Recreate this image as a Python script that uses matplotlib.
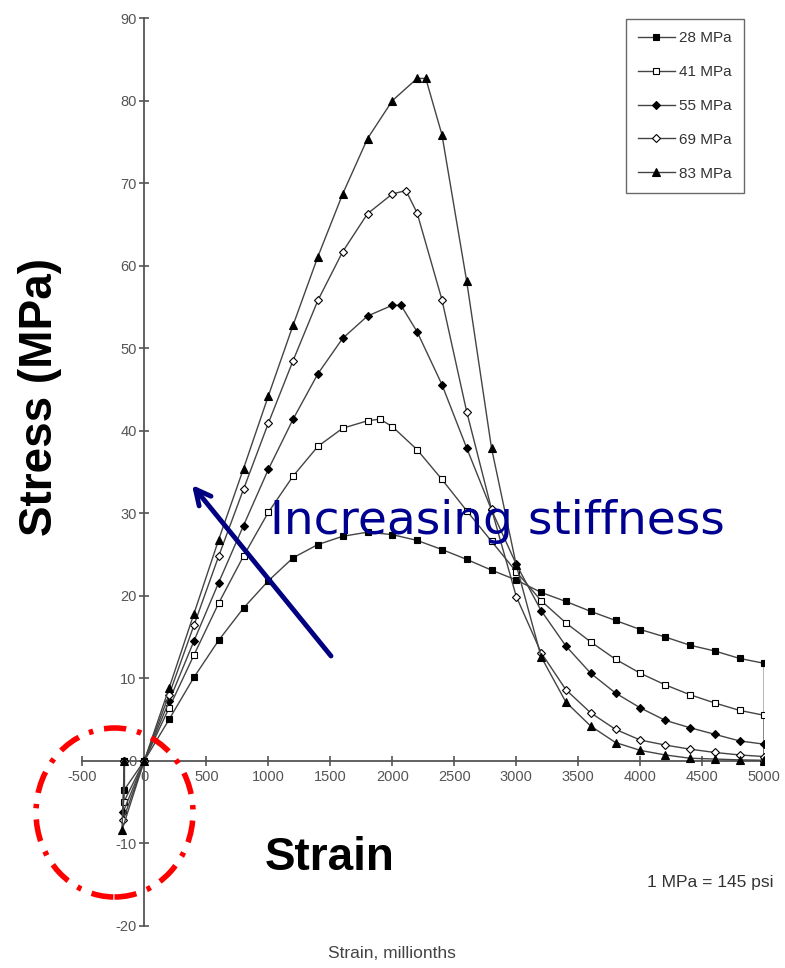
import matplotlib
matplotlib.use('Agg')
import matplotlib.pyplot as plt
from matplotlib.patches import Ellipse

plt.rcParams['axes.unicode_minus'] = False

# strain grid (millionths) shared by all curves
strain = [0, 200, 400, 600, 800, 1000, 1200, 1400, 1600, 1800, 2000, 2200, 2400,
          2600, 2800, 3000, 3200, 3400, 3600, 3800, 4000, 4200, 4400, 4600, 4800, 5000]

labels = ['28 MPa', '41 MPa', '55 MPa', '69 MPa', '83 MPa']

stress_28 = [0, 5.0, 10.1, 14.6, 18.5, 21.8, 24.6, 26.2, 27.2, 27.7, 27.4, 26.7, 25.6,
             24.4, 23.1, 21.9, 20.4, 19.3, 18.1, 17.0, 15.9, 15.0, 14.0, 13.3, 12.4, 11.8]
stress_41 = [0, 6.4, 12.8, 19.1, 24.8, 30.1, 34.5, 38.1, 40.3, 41.2, 40.5, 37.7, 34.1,
             30.3, 26.6, 22.9, 19.4, 16.7, 14.4, 12.3, 10.6, 9.2, 8.0, 7.0, 6.1, 5.5]
stress_55 = [0, 7.2, 14.5, 21.6, 28.5, 35.3, 41.4, 46.9, 51.2, 53.9, 55.2, 52.0, 45.6,
             37.9, 30.4, 23.8, 18.2, 13.9, 10.6, 8.2, 6.4, 4.9, 4.0, 3.2, 2.4, 2.0]
stress_69 = [0, 8.0, 16.4, 24.8, 32.9, 40.9, 48.5, 55.8, 61.7, 66.3, 68.7, 66.4, 55.9,
             42.3, 30.5, 19.9, 13.1, 8.6, 5.8, 3.8, 2.5, 1.9, 1.4, 1.0, 0.7, 0.5]
stress_83 = [0, 8.8, 17.8, 26.8, 35.4, 44.2, 52.8, 61.1, 68.7, 75.4, 80.0, 82.7, 75.9,
             58.1, 37.9, 23.7, 12.6, 7.1, 4.2, 2.2, 1.25, 0.7, 0.3, 0.2, 0.1, 0.05]

# extra point at each peak (None = no extra point)
peak_strain = [None, 1900, 2070, 2110, 2270]
peak_stress = [None, 41.4, 55.2, 69.1, 82.7]

# small negative pre-load excursion before zero
pre_start = -160
pre_strain = [-160, -165, -170, -172, -180]
pre_stress = [-3.5, -5.0, -6.2, -7.2, -8.4]

end_strain = 5000

markers = ['s', 's', 'D', 'D', '^']
faces = ['black', 'white', 'black', 'white', 'black']
msizes = [5, 5, 4, 4, 6]

W, H = 785, 968


def fx(px):
    return px / W


def fy(py):
    return 1 - py / H


fig = plt.figure(figsize=(W / 100, H / 100), dpi=100)
ax = fig.add_axes([fx(82.3), fy(925.7), fx(764.3) - fx(82.3), fy(18.2) - fy(925.7)])

all_stress = [stress_28, stress_41, stress_55, stress_69, stress_83]
for i, ys in enumerate(all_stress):
    pts = list(zip(strain, ys))
    if peak_strain[i] is not None:
        pts.append((peak_strain[i], peak_stress[i]))
    pts.sort()
    xs = [pre_start, pre_strain[i]] + [p[0] for p in pts] + [end_strain]
    yy = [0, pre_stress[i]] + [p[1] for p in pts] + [0]
    ax.plot(xs, yy, color='#444444', lw=1.0, marker=markers[i], ms=msizes[i],
            mfc=faces[i], mec='black', mew=0.8, label=labels[i], zorder=3)

ax.set_xlim(-500, 5000)
ax.set_ylim(-20, 90)
ax.set_xticks(range(-500, 5001, 500))
ax.set_yticks(range(-20, 91, 10))
for s in ['top', 'right']:
    ax.spines[s].set_visible(False)
ax.spines['left'].set_position(('data', 0))
ax.spines['bottom'].set_position(('data', 0))
for s in ['left', 'bottom']:
    ax.spines[s].set_color('#555555')
    ax.spines[s].set_linewidth(1.3)
ax.tick_params(direction='inout', length=7, width=1.2, color='#555555',
               labelcolor='#555555', labelsize=10.5)
ax.tick_params(axis='y', pad=2)
for lab in ax.get_xticklabels() + ax.get_yticklabels():
    lab.set_family('Liberation Sans')
ax.patch.set_visible(False)

leg = ax.legend(loc='upper right', bbox_to_anchor=(fx(744), fy(19)),
                bbox_transform=fig.transFigure, borderaxespad=0, frameon=True,
                fancybox=False, edgecolor='#444444', labelspacing=1.3,
                handlelength=2.4, handletextpad=0.3, borderpad=0.8,
                prop={'family': 'Liberation Sans', 'size': 11})
leg.get_frame().set_linewidth(1.0)
for t in leg.get_texts():
    t.set_color('#333333')

# annotations on top of the chart
fig.text(fx(40), fy(397), 'Stress (MPa)', rotation=90, ha='center', va='center',
         fontsize=33, fontweight='bold', family='Liberation Sans')
fig.text(fx(330), fy(858), 'Strain', ha='center', va='center',
         fontsize=33, fontweight='bold', family='Liberation Sans')
fig.text(fx(710), fy(883), '1 MPa = 145 psi', ha='center', va='center',
         fontsize=12.5, color='#333333', family='Liberation Sans')
fig.text(fx(392), fy(954), 'Strain, millionths', ha='center', va='center',
         fontsize=12.5, color='#444444', family='Liberation Sans')

inc = fig.text(fx(270), fy(522), 'Increasing stiffness', ha='left', va='center',
               fontsize=30, color='#000090', family='DejaVu Sans')
fig.canvas.draw()
ext = inc.get_window_extent()
inc.set_fontsize(30 * 455 / ext.width)

ax.annotate('', xy=(fx(192), fy(485)), xytext=(fx(331), fy(656)),
            xycoords='figure fraction', textcoords='figure fraction',
            arrowprops=dict(arrowstyle='->,head_length=1.1,head_width=0.55',
                            color='#000080', lw=3.5, shrinkA=0, shrinkB=0))

circ = Ellipse((fx(114.5), fy(812.5)), 157 / W, 169 / H, transform=fig.transFigure,
               fill=False, edgecolor='#ff0000', lw=4, linestyle=(0, (4, 2, 0.8, 2)))
fig.patches.append(circ)

fig.savefig('out.png', dpi=100)
